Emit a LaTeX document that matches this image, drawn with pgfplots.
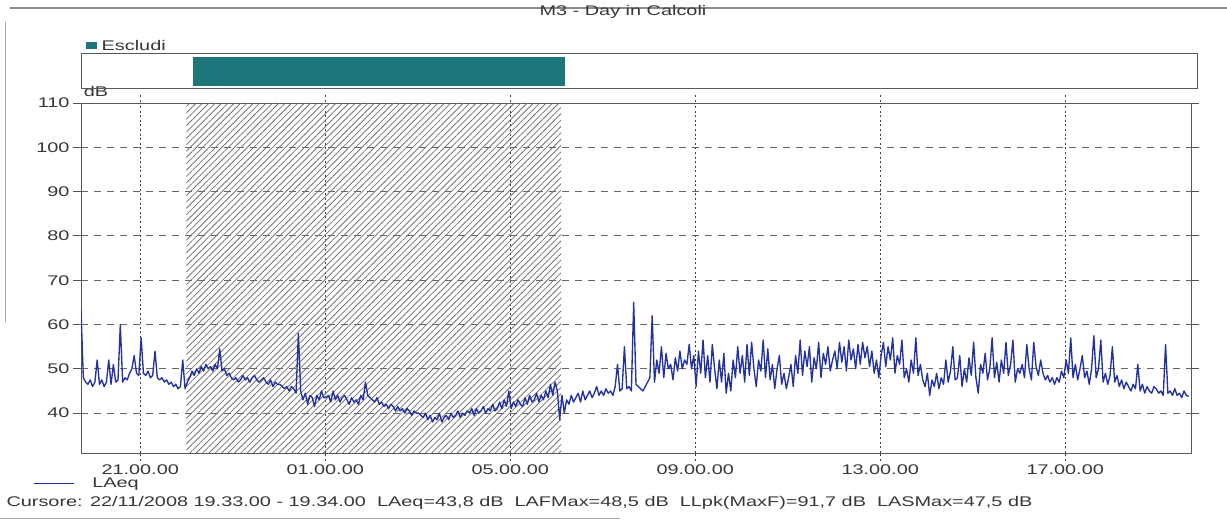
\documentclass[border=0pt]{standalone}
\usepackage{pgfplots}
\pgfplotsset{compat=1.18}
\usepackage{pgfplotstable}
\usetikzlibrary{patterns.meta}
\usepackage{fontspec}
\setmainfont[FakeStretch=1.42]{Liberation Sans}
\definecolor{teal1}{RGB}{28,118,122}
\definecolor{trace}{RGB}{36,50,160}
\definecolor{txt}{RGB}{55,55,55}

% LAeq, one value every 3 minutes from 19.43 (22/11) to 19.38 (23/11)
\pgfplotstableread[row sep=\\]{
y\\
63.5\\ 48\\ 47\\ 46.5\\ 47.5\\ 46\\ 47\\ 52\\ 46.5\\ 47.5\\ 46\\ 47\\ 52\\ 46.5\\ 51\\ 47\\ 47.5\\ 60\\ 47\\ 48\\ 47.5\\ 49\\ 50\\ 53\\ 49\\ 48.5\\
57\\ 49\\ 48.5\\ 49.5\\ 48\\ 48.5\\ 54\\ 48\\ 47.5\\ 48\\ 47\\ 47.5\\ 46.5\\ 47\\ 46\\ 46.5\\ 45.5\\ 46\\ 52\\ 45.5\\
47\\ 48\\ 49.5\\ 48.5\\ 50\\ 49\\ 50.5\\ 49.5\\ 51\\ 50\\ 50.5\\ 49.5\\ 51\\ 50\\ 54.5\\ 49.5\\ 50\\ 48.5\\ 49\\ 48\\
47.5\\ 48\\ 47\\ 47.5\\ 48.5\\ 47.5\\ 48\\ 47\\ 48\\ 48.5\\ 47.5\\ 47\\ 47.5\\ 48\\ 47\\ 46.5\\ 47.5\\ 46\\ 47\\ 46.5\\
46.5\\ 46\\ 45.5\\ 46\\ 45\\ 46\\ 45.5\\ 44.5\\ 58\\ 45\\ 43\\ 44.5\\ 42\\ 44\\ 43.5\\ 41.5\\ 44\\ 43\\ 45\\ 43.5\\
43.5\\ 44\\ 42.5\\ 45\\ 43\\ 44\\ 42.5\\ 43.5\\ 44\\ 43\\ 42\\ 43.5\\ 42.5\\ 43\\ 42\\ 44\\ 43\\ 47\\ 44\\ 43.5\\
43\\ 42.5\\ 43.5\\ 42\\ 42.5\\ 41.5\\ 42\\ 41\\ 42\\ 41.5\\ 40.5\\ 41.5\\ 40.5\\ 41\\ 40\\ 41\\ 40.5\\ 39.5\\ 40.5\\ 40\\
40\\ 39.5\\ 39\\ 40\\ 38.5\\ 39.5\\ 38\\ 39\\ 38.5\\ 40\\ 38\\ 39\\ 39.5\\ 38.5\\ 40\\ 39\\ 39.5\\ 40.5\\ 39\\ 40\\
39.5\\ 40.5\\ 40\\ 41\\ 39.5\\ 41\\ 40\\ 40.5\\ 41.5\\ 40\\ 41\\ 40.5\\ 42\\ 40.5\\ 41\\ 42.5\\ 41\\ 43\\ 41.5\\ 45\\
41\\ 42.5\\ 41.5\\ 43\\ 42\\ 41.5\\ 43.5\\ 42\\ 44\\ 42.5\\ 43\\ 44.5\\ 42.5\\ 44\\ 43\\ 45\\ 43.5\\ 46.5\\ 44\\ 47\\
45\\ 38.5\\ 44\\ 40\\ 43\\ 42\\ 44\\ 42.5\\ 43.5\\ 44.5\\ 42.5\\ 45\\ 43\\ 44\\ 45\\ 43.5\\ 44.5\\ 46\\ 44\\ 45\\
44\\ 45.5\\ 44.5\\ 45\\ 44\\ 46\\ 51\\ 45\\ 45.5\\ 55\\ 45.5\\ 46\\ 45\\ 65\\ 46.5\\ 46\\ 45.5\\ 45\\ 46\\ 47\\
48\\ 62\\ 47\\ 52\\ 49\\ 55\\ 48\\ 53.5\\ 50\\ 51\\ 47.5\\ 52.5\\ 49.5\\ 54\\ 50\\ 52\\ 51\\ 55.5\\ 50\\ 53\\
46\\ 54\\ 49\\ 56.5\\ 48\\ 53\\ 47\\ 55.5\\ 50\\ 45.5\\ 52\\ 47\\ 53.5\\ 44.5\\ 49\\ 45\\ 52\\ 48\\ 55\\ 49\\
53\\ 47\\ 55.5\\ 48.5\\ 56\\ 50\\ 46\\ 52\\ 49.5\\ 56.5\\ 48\\ 54.5\\ 47.5\\ 51\\ 45.5\\ 50\\ 53\\ 46.5\\ 49\\ 45.5\\
48\\ 51\\ 46\\ 53\\ 49\\ 56.5\\ 48.5\\ 54\\ 50.5\\ 55\\ 47\\ 52.5\\ 50\\ 56\\ 48\\ 53.5\\ 51\\ 55\\ 49.5\\ 52\\
54\\ 50\\ 56\\ 51.5\\ 55\\ 49.5\\ 56.5\\ 52\\ 54.5\\ 50\\ 55.5\\ 51\\ 56\\ 52.5\\ 55\\ 50.5\\ 54\\ 49\\ 52\\ 48\\
53\\ 56\\ 50.5\\ 55\\ 52\\ 57\\ 49\\ 53\\ 51\\ 56.5\\ 48\\ 50\\ 47\\ 52\\ 49\\ 57\\ 48.5\\ 51\\ 47.5\\ 46\\
49\\ 44\\ 47.5\\ 46\\ 49\\ 45.5\\ 48\\ 46.5\\ 52\\ 47\\ 49.5\\ 55\\ 47.5\\ 48\\ 53\\ 46\\ 50\\ 47\\ 52.5\\ 48.5\\
56\\ 48\\ 44.5\\ 51\\ 49\\ 53.5\\ 47.5\\ 50\\ 57\\ 48\\ 51.5\\ 47\\ 52\\ 49\\ 56\\ 48.5\\ 51\\ 56.5\\ 47\\ 50\\
49\\ 51\\ 48\\ 55.5\\ 50\\ 47.5\\ 56\\ 50.5\\ 48.5\\ 52\\ 49\\ 47.5\\ 48.5\\ 47\\ 48\\ 46.5\\ 48\\ 47\\ 49.5\\ 48\\
52\\ 49\\ 57\\ 48\\ 51\\ 47.5\\ 50\\ 53\\ 48\\ 49.5\\ 46.5\\ 50\\ 57.5\\ 48\\ 50\\ 56.5\\ 47\\ 49\\ 46.5\\ 48.5\\
55\\ 47\\ 48.5\\ 46\\ 47.5\\ 45.5\\ 47\\ 46\\ 45\\ 46.5\\ 45.5\\ 51\\ 45\\ 46.5\\ 44.5\\ 46\\ 45\\ 44.5\\ 46\\ 45.5\\
44.5\\ 45\\ 44\\ 55.5\\ 44.5\\ 45\\ 44\\ 45.5\\ 44\\ 44.5\\ 43.5\\ 45\\ 44\\ 43.8\\
}\laeq

\begin{document}
\begin{tikzpicture}[x=1pt,y=1pt,font=\fontsize{14}{16}\selectfont]
\useasboundingbox (0,0) rectangle (1227,522);

% scan frame
\draw[black!45, line width=1.2pt] (10,514) -- (1227,514);
\draw[black!35, line width=1pt] (5,200) -- (5,500);
\draw[black!35, line width=1pt] (0,3) -- (620,3);

% title
\node[text=txt] at (623,510) {M3 - Day in Calcoli};
\node[text=txt] at (96,430) {dB};

% exclusion strip
\begin{axis}[
  at={(81pt,434pt)}, anchor=south west,
  width=1116pt, height=35pt, scale only axis,
  xmin=19.72, xmax=43.85, ymin=0, ymax=1,
  xtick=\empty, ytick=\empty,
  axis line style={black!65, line width=0.9pt},
  axis on top,
  legend style={at={(axis description cs:0.004,1.2)}, anchor=west,
    draw=none, fill=none, inner sep=0pt, text=txt,
    font=\fontsize{14}{16}\selectfont},
  legend image code/.code={\fill[teal1] (0pt,-3.5pt) rectangle (11pt,3.5pt);},
]
\addplot[fill=teal1, draw=none] coordinates {(22.15,0.06) (22.15,0.89) (30.18,0.89) (30.18,0.06)} -- cycle;
\addlegendentry{\hspace{3pt}Escludi}
\end{axis}

% main chart
\begin{axis}[
  at={(81pt,69pt)}, anchor=south west,
  width=1110pt, height=350pt, scale only axis,
  xmin=19.72, xmax=43.72, ymin=31, ymax=110,
  xtick={21,25,29,33,37,41},
  xticklabels={21.00.00,01.00.00,05.00.00,09.00.00,13.00.00,17.00.00},
  ytick={40,50,60,70,80,90,100,110},
  /pgf/number format/assume math mode=true,
  grid=major,
  x grid style={black!75, line width=1pt, dash pattern=on 2pt off 2.6pt},
  y grid style={black!60, line width=0.9pt, dash pattern=on 7pt off 6pt},
  axis line style={black!65, line width=0.9pt},
  tick align=outside,
  major tick length=8pt,
  xtick style={black!75, line width=1pt, dash pattern=on 2pt off 2.6pt},
  ytick style={black!65, line width=0.9pt},
  tick label style={font=\fontsize{14}{16}\selectfont, text=txt},
  legend style={at={(axis description cs:-0.043,-0.086)}, anchor=west,
    draw=none, fill=none, inner sep=0pt, text=txt,
    font=\fontsize{14}{16}\selectfont},
  legend image code/.code={\draw[#1, line width=0.8pt] (0pt,0pt) -- (40pt,0pt);},
]
\addplot[draw=none, pattern={Lines[angle=45,distance=4.5pt,line width=0.8pt]},
  pattern color=black!55, forget plot] coordinates {(22.0,110) (30.1,110)} \closedcycle;
\addplot[trace, line width=1.35pt, line join=round] table[x expr=19.72+0.05*\coordindex, y=y] {\laeq};
\addlegendentry{\hspace{16pt}LAeq}
\end{axis}

\node[anchor=west, text=txt] at (3,19) {Cursore: 22/11/2008 19.33.00 - 19.34.00 \ LAeq=43,8 dB \ LAFMax=48,5 dB \ LLpk(MaxF)=91,7 dB \ LASMax=47,5 dB};
\end{tikzpicture}
\end{document}
